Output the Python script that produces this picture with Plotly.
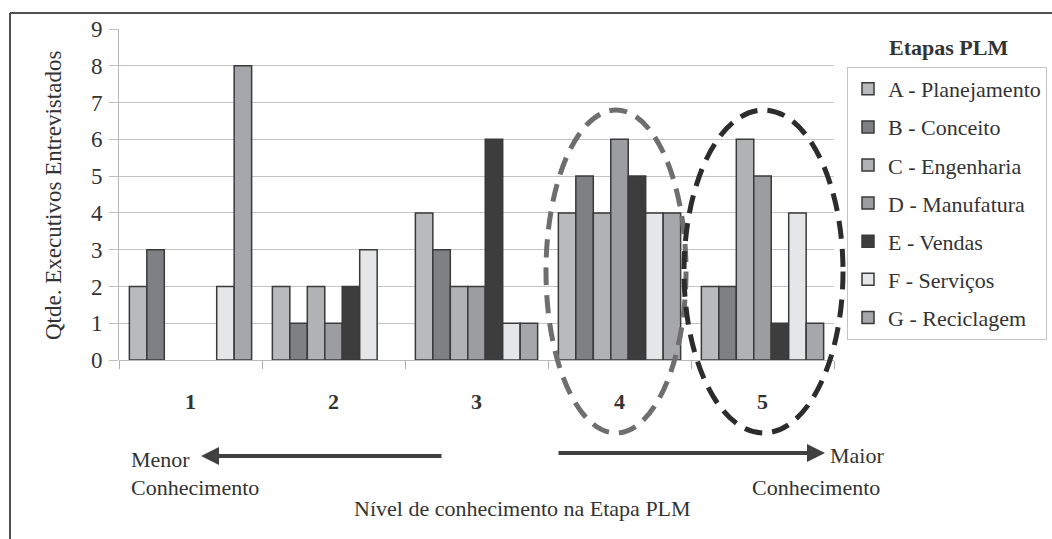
import plotly.graph_objects as go

categories = ["1", "2", "3", "4", "5"]
series_names = ["A - Planejamento", "B - Conceito", "C - Engenharia", "D - Manufatura",
                "E - Vendas", "F - Serviços", "G - Reciclagem"]
A = [2, 2, 4, 4, 2]
B = [3, 1, 3, 5, 2]
C = [0, 2, 2, 4, 6]
D = [0, 1, 2, 6, 5]
E = [0, 2, 6, 5, 1]
F = [2, 3, 1, 4, 4]
G = [8, 0, 1, 4, 1]
series_values = [A, B, C, D, E, F, G]
colors = ["#b9babc", "#7f8083", "#b1b2b4", "#9c9da0", "#3d3d3d", "#e5e6e7", "#a6a7aa"]
y_ticks = list(range(0, 10))

W, H = 1052, 539
L, R, T, Bm = 119, 834, 29, 360  # plot area pixel bounds


def px(x):
    return (x - L) / (R - L)


def py(y):
    return (Bm - y) / (Bm - T)


FONT = "Liberation Serif"
TXT = "#333333"
FS = 22

fig = go.Figure()
for i, (name, vals) in enumerate(zip(series_names, series_values)):
    # zero-valued bars are not drawn (no flat outline), as in the original
    fig.add_trace(go.Bar(
        x=categories, y=[v if v else None for v in vals], name=name, legendgroup=name,
        marker=dict(color=colors[i], line=dict(color="#3a3a3a", width=1.5)),
    ))

fig.update_layout(
    width=W, height=H,
    margin=dict(l=L, r=W - R, t=T, b=H - Bm, pad=0, autoexpand=False),
    paper_bgcolor="white", plot_bgcolor="white",
    barmode="group", bargap=0.145, bargroupgap=0,
    font=dict(family=FONT, size=FS, color=TXT),
    legend=dict(
        x=px(847), y=py(67), xanchor="left", yanchor="top",
        bordercolor="#c4c4c4", borderwidth=1, bgcolor="white",
        font=dict(family=FONT, size=FS, color=TXT),
        traceorder="grouped", tracegroupgap=6.5,
    ),
    xaxis=dict(
        type="category", tickson="boundaries", ticks="outside", ticklen=8,
        tickcolor="#b0b0b0", showline=False, showgrid=False,
        tickfont=dict(size=FS, color=TXT, family=FONT, weight="bold"),
        ticklabelstandoff=26,
    ),
    yaxis=dict(
        range=[0, 9], tickvals=y_ticks, ticks="outside", ticklen=9, tickcolor="#c0c0c0",
        showgrid=True, gridcolor="#c4c4c4", gridwidth=1, showline=True, linecolor="#b8b8b8",
        zeroline=True, zerolinecolor="#b8b8b8", zerolinewidth=1,
        tickfont=dict(size=23, color=TXT, family=FONT), ticklabelstandoff=2,
    ),
    showlegend=True,
)

shapes = [
    # outer frame (top and left)
    dict(type="line", xref="paper", yref="paper", x0=px(10), x1=px(1052), y0=py(13), y1=py(13),
         line=dict(color="#505050", width=2)),
    dict(type="line", xref="paper", yref="paper", x0=px(10), x1=px(10), y0=py(13), y1=py(539),
         line=dict(color="#505050", width=2)),
    # dashed ellipses
    dict(type="circle", xref="paper", yref="paper", x0=px(546), x1=px(686), y0=py(110), y1=py(433),
         line=dict(color="#6e6e6e", width=5, dash="18px,10px")),
    dict(type="circle", xref="paper", yref="paper", x0=px(684), x1=px(843), y0=py(110), y1=py(433),
         line=dict(color="#2c2c2c", width=5, dash="18px,10px")),
]
fig.update_layout(shapes=shapes)

ann = []
ann.append(dict(text="Qtde. Executivos Entrevistados", xref="paper", yref="paper",
                x=px(53), y=py(196), textangle=-90, showarrow=False,
                font=dict(size=23, color=TXT, family=FONT), xanchor="center", yanchor="middle"))
ann.append(dict(text="<b>Etapas PLM</b>", xref="paper", yref="paper", x=px(948), y=py(47),
                showarrow=False, font=dict(size=FS, color=TXT, family=FONT),
                xanchor="center", yanchor="middle"))
ann.append(dict(text="Nível de conhecimento na Etapa PLM", xref="paper", yref="paper",
                x=px(522), y=py(508), showarrow=False, font=dict(size=FS, color=TXT, family=FONT),
                xanchor="center", yanchor="middle"))
ann.append(dict(text="Menor", xref="paper", yref="paper", x=px(129), y=py(459), showarrow=False,
                xanchor="left", yanchor="middle", font=dict(size=FS, color=TXT, family=FONT)))
ann.append(dict(text="Conhecimento", xref="paper", yref="paper", x=px(129), y=py(488), showarrow=False,
                xanchor="left", yanchor="middle", font=dict(size=FS, color=TXT, family=FONT)))
ann.append(dict(text="Maior", xref="paper", yref="paper", x=px(828), y=py(455), showarrow=False,
                xanchor="left", yanchor="middle", font=dict(size=FS, color=TXT, family=FONT)))
ann.append(dict(text="Conhecimento", xref="paper", yref="paper", x=px(882), y=py(488), showarrow=False,
                xanchor="right", yanchor="middle", font=dict(size=FS, color=TXT, family=FONT)))
ann.append(dict(text="", xref="paper", yref="paper", x=px(201), y=py(456), ax=242, ay=0,
                showarrow=True, arrowhead=2, arrowsize=0.9, arrowwidth=4, arrowcolor="#404040",
                standoff=0, startstandoff=0))
ann.append(dict(text="", xref="paper", yref="paper", x=px(825), y=py(453), ax=-268, ay=0,
                showarrow=True, arrowhead=2, arrowsize=0.9, arrowwidth=4, arrowcolor="#404040",
                standoff=0, startstandoff=0))
fig.update_layout(annotations=ann)

fig.write_html("out.html", config={"displayModeBar": False},
               post_script="document.body.style.margin='0px';")
